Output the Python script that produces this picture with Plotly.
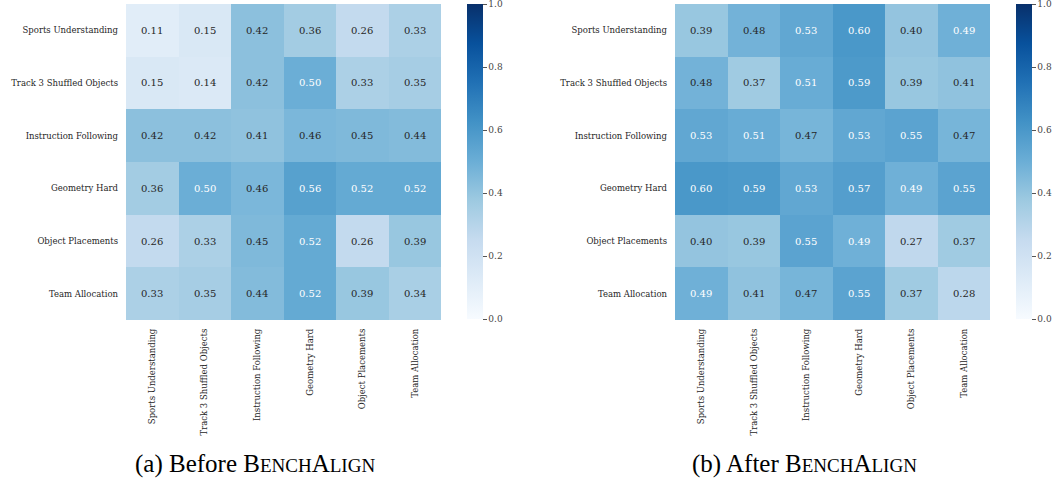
import plotly.graph_objects as go

# Task categories (same order on both axes)
tasks = [
    'Sports Understanding',
    'Track 3 Shuffled Objects',
    'Instruction Following',
    'Geometry Hard',
    'Object Placements',
    'Team Allocation',
]

# Correlation values before alignment (rows follow `tasks`)
before_values = [
    [0.11, 0.15, 0.42, 0.36, 0.26, 0.33],
    [0.15, 0.14, 0.42, 0.50, 0.33, 0.35],
    [0.42, 0.42, 0.41, 0.46, 0.45, 0.44],
    [0.36, 0.50, 0.46, 0.56, 0.52, 0.52],
    [0.26, 0.33, 0.45, 0.52, 0.26, 0.39],
    [0.33, 0.35, 0.44, 0.52, 0.39, 0.34],
]

# Correlation values after alignment
after_values = [
    [0.39, 0.48, 0.53, 0.60, 0.40, 0.49],
    [0.48, 0.37, 0.51, 0.59, 0.39, 0.41],
    [0.53, 0.51, 0.47, 0.53, 0.55, 0.47],
    [0.60, 0.59, 0.53, 0.57, 0.49, 0.55],
    [0.40, 0.39, 0.55, 0.49, 0.27, 0.37],
    [0.49, 0.41, 0.47, 0.55, 0.37, 0.28],
]

colorbar_ticks = [0.0, 0.2, 0.4, 0.6, 0.8, 1.0]

SERIF = 'DejaVu Serif'
DARK = '#262626'
W, H = 1058, 480


def make_heatmap(values, xaxis, yaxis, cbar_x):
    """Build one seaborn-style heatmap trace with its own colorbar."""
    return go.Heatmap(
        z=values,
        x=tasks,
        y=tasks,
        xaxis=xaxis,
        yaxis=yaxis,
        zmin=0,
        zmax=1,
        colorscale='Blues',
        hoverongaps=False,
        colorbar=dict(
            x=cbar_x,
            xanchor='left',
            y=1 - 161.5 / H,
            yanchor='middle',
            len=317,
            lenmode='pixels',
            thickness=16,
            outlinewidth=0,
            xpad=0,
            ypad=1,
            tickvals=colorbar_ticks,
            tickformat='.1f',
            ticks='outside',
            ticklen=4,
            tickwidth=1,
            tickcolor='#555555',
            ticklabeloverflow='allow',
            tickfont=dict(family=SERIF, size=9, color='#444444'),
        ),
    )


def cell_labels(values, xref, yref):
    """Annotate each cell; dark cells get white text like seaborn."""
    notes = []
    for i, row in enumerate(values):
        for j, v in enumerate(row):
            notes.append(dict(
                x=tasks[j], y=tasks[i], xref=xref, yref=yref,
                text=f'{v:.2f}', showarrow=False,
                font=dict(family=SERIF, size=10,
                          color='white' if v >= 0.49 else DARK),
            ))
    return notes


def small_caps_caption(prefix, small=19):
    return (f'{prefix} B<span style="font-size:{small}px">ENCH</span>'
            f'A<span style="font-size:{small}px">LIGN</span>')


fig = go.Figure()
fig.add_trace(make_heatmap(before_values, 'x', 'y', 467 / W))
fig.add_trace(make_heatmap(after_values, 'x2', 'y2', 1016 / W))

tick_font = dict(family=SERIF, size=8.5, color=DARK)
x_common = dict(tickangle=-90, tickfont=tick_font, showgrid=False,
                zeroline=False, ticks='', ticklabelstandoff=6,
                automargin=False)
y_common = dict(tickfont=tick_font, showgrid=False, zeroline=False,
                ticks='', autorange='reversed', ticklabelstandoff=7,
                automargin=False, domain=[1 - 320 / H, 1 - 4 / H])

annotations = cell_labels(before_values, 'x', 'y') + cell_labels(after_values, 'x2', 'y2')
for cx, prefix in [(255, '(a) Before'), (804, '(b) After')]:
    annotations.append(dict(
        x=cx / W, y=1 - 464 / H, xref='paper', yref='paper',
        xanchor='center', yanchor='middle',
        text=small_caps_caption(prefix), showarrow=False,
        font=dict(family='Liberation Serif', size=25, color='black'),
    ))

fig.update_layout(
    width=W,
    height=H,
    margin=dict(l=0, r=0, t=0, b=0, autoexpand=False),
    paper_bgcolor='white',
    plot_bgcolor='white',
    xaxis=dict(domain=[126 / W, 441 / W], anchor='y', **x_common),
    yaxis=dict(anchor='x', **y_common),
    xaxis2=dict(domain=[675 / W, 990 / W], anchor='y2', **x_common),
    yaxis2=dict(anchor='x2', **y_common),
    annotations=annotations,
    showlegend=False,
)

# drop the browser's default body margin so the figure sits at (0, 0)
fig.write_html('out.html', config={'displayModeBar': False},
               post_script="document.body.style.margin='0';")
